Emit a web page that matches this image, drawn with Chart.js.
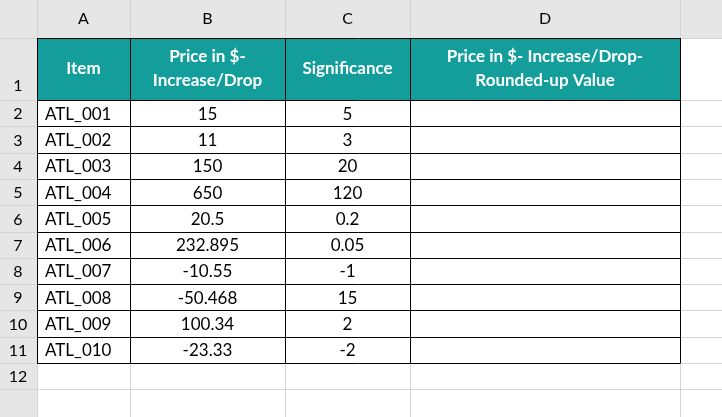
<!DOCTYPE html>
<html><head><meta charset="utf-8">
<script src="https://cdn.jsdelivr.net/npm/chart.js@4"></script>
<style>html,body{margin:0;padding:0;background:#fff}#c{display:block}</style>
</head><body>
<div style="width:722px;height:417px"><canvas id="c"></canvas></div>
<script>
const colLetters = ["A","B","C","D"];
const headers = [["Item"],["Price in $-","Increase/Drop"],["Significance"],["Price in $- Increase/Drop-","Rounded-up Value"]];
const items = ["ATL_001","ATL_002","ATL_003","ATL_004","ATL_005","ATL_006","ATL_007","ATL_008","ATL_009","ATL_010"];
const prices = ["15","11","150","650","20.5","232.895","-10.55","-50.468","100.34","-23.33"];
const significance = ["5","3","20","120","0.2","0.05","-1","15","2","-2"];

const colX = [0,37,130,285,410,680,722];
const rowTop = 38, headerH = 62, rowH = 26.3;
const font = "Lato, 'Open Sans', sans-serif";

const tablePlugin = {
  id:'table',
  afterDraw(chart){
    const ctx = chart.ctx;
    const W = 722, H = 417;
    ctx.save();
    ctx.fillStyle = '#e6e6e6';
    ctx.fillRect(0,0,W,rowTop);
    ctx.fillRect(0,0,colX[1],H);
    ctx.fillStyle = '#139e9c';
    ctx.fillRect(colX[1],rowTop,colX[5]-colX[1],headerH);
    ctx.strokeStyle = '#d4d4d4'; ctx.lineWidth = 1;
    const rowYs = [rowTop, rowTop+headerH];
    for(let i=1;i<=11;i++) rowYs.push(rowTop+headerH+i*rowH);
    rowYs.forEach(y=>{ctx.beginPath();ctx.moveTo(0,Math.round(y)+0.5);ctx.lineTo(W,Math.round(y)+0.5);ctx.stroke();});
    colX.slice(1,6).forEach(x=>{ctx.beginPath();ctx.moveTo(x+0.5,0);ctx.lineTo(x+0.5,H);ctx.stroke();});
    ctx.strokeStyle = '#000';
    const tBottom = rowTop+headerH+10*rowH;
    for(let i=0;i<=11;i++){const y=Math.round(i===0?rowTop:rowTop+headerH+(i-1)*rowH)+0.5;
      ctx.beginPath();ctx.moveTo(colX[1],y);ctx.lineTo(colX[5],y);ctx.stroke();}
    colX.slice(1,6).forEach(x=>{ctx.beginPath();ctx.moveTo(x+0.5,rowTop);ctx.lineTo(x+0.5,Math.round(tBottom)+0.5);ctx.stroke();});
    ctx.textAlign='center'; ctx.textBaseline='middle';
    ctx.fillStyle='#000'; ctx.font = `16px ${font}`;
    colLetters.forEach((l,i)=>ctx.fillText(l,(colX[i+1]+colX[i+2])/2,19));
    ctx.fillText('1',18,rowTop+headerH-14);
    for(let r=0;r<11;r++) ctx.fillText(String(r+2),18,rowTop+headerH+r*rowH+rowH/2+1);
    ctx.fillStyle='#fff'; ctx.font = `bold 17px ${font}`;
    headers.forEach((h,i)=>{const cx=(colX[i+1]+colX[i+2])/2; const cy=rowTop+headerH/2;
      h.forEach((t,k)=>ctx.fillText(t,cx,cy+(k-(h.length-1)/2)*24));});
    ctx.fillStyle='#000'; ctx.font = `17px ${font}`;
    for(let r=0;r<10;r++){const cy=rowTop+headerH+r*rowH+rowH/2+1;
      ctx.textAlign='left'; ctx.fillText(items[r],colX[1]+8,cy);
      ctx.textAlign='center'; ctx.fillText(prices[r],(colX[2]+colX[3])/2,cy);
      ctx.fillText(significance[r],(colX[3]+colX[4])/2,cy);}
    ctx.restore();
  }
};
new Chart(document.getElementById('c'),{
  type:'bar',
  data:{labels:items,datasets:[{data:[],label:'Price'}]},
  options:{responsive:true,maintainAspectRatio:false,animation:false,
    plugins:{legend:{display:false},tooltip:{enabled:false}},
    scales:{x:{display:false},y:{display:false}}},
  plugins:[tablePlugin]
});
</script></body></html>
